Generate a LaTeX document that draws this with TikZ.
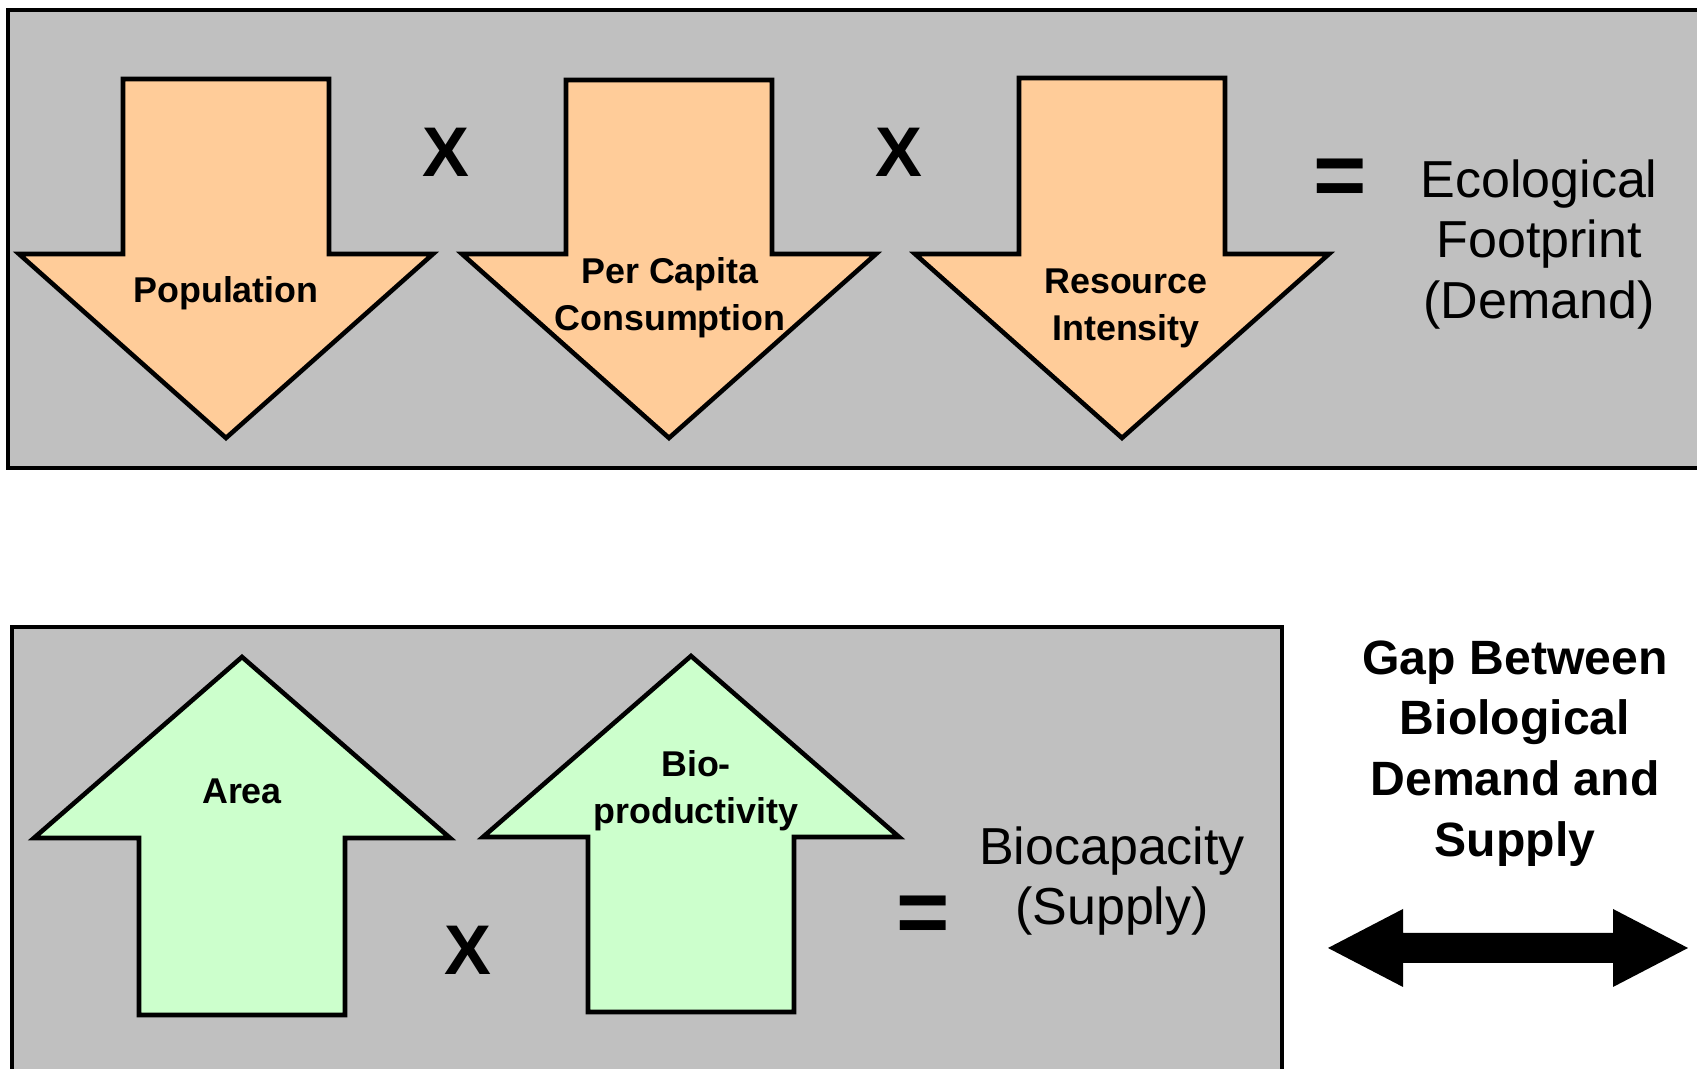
\documentclass[tikz,border=0pt]{standalone}
\usepackage{fontspec}
\setmainfont{Liberation Sans}
\definecolor{panelgray}{HTML}{C0C0C0}
\definecolor{demandfill}{HTML}{FFCC99}
\definecolor{supplyfill}{HTML}{CCFFCC}

\begin{document}
\begin{tikzpicture}[
		panel/.style={draw=black, fill=panelgray, line width=1.3pt},
		downarrow/.style={draw=black, fill=demandfill, line width=1.3pt, line join=miter},
		uparrow/.style={draw=black, fill=supplyfill, line width=1.3pt, line join=miter},
		lbl/.style={align=center, inner sep=0pt, font=\fontsize{10.2}{13.5}\selectfont\bfseries},
		times/.style={inner sep=0pt, font=\fontsize{20}{24}\selectfont\bfseries},
		equals/.style={inner sep=0pt, font=\fontsize{26}{30}\selectfont\bfseries},
		result/.style={align=center, inner sep=0pt, font=\fontsize{14.8}{17.3}\selectfont},
		gaptext/.style={align=center, inner sep=0pt, font=\fontsize{13.7}{17.3}\selectfont\bfseries}
	]
	\useasboundingbox (0,0) rectangle (16.97,10.69);
	\clip (0,0) rectangle (16.97,10.69);
	
	% demand
	\draw [panel] (0.08,6.01) rectangle (17.5,10.59);
	\draw [downarrow] (1.23,9.9) -- (3.29,9.9) -- (3.29,8.15) -- (4.33,8.15) -- (2.26,6.31) -- (0.19,8.15) -- (1.23,8.15) -- cycle;
	\draw [downarrow] (5.66,9.89) -- (7.72,9.89) -- (7.72,8.15) -- (8.76,8.15) -- (6.69,6.31) -- (4.62,8.15) -- (5.66,8.15) -- cycle;
	\draw [downarrow] (10.19,9.91) -- (12.25,9.91) -- (12.25,8.15) -- (13.29,8.15) -- (11.22,6.31) -- (9.15,8.15) -- (10.19,8.15) -- cycle;
	\node [lbl] (pop) at (2.26,7.755) {Population};
	\node [lbl] (cons) at (6.70,7.71) {Per Capita\\Consumption};
	\node [lbl] (intens) at (11.26,7.605) {Resource\\Intensity};
	\node [times] (x1) at (4.46,9.17) {X};
	\node [times] (x2) at (8.99,9.17) {X};
	\node [equals] (eq1) at (13.40,8.865) {=};
	\node [result] (footprint) at (15.39,8.245) {Ecological\\Footprint\\(Demand)};
	
	% supply
	\draw [panel] (0.12,-0.5) rectangle (12.82,4.42);
	\draw [uparrow] (2.42,4.12) -- (4.50,2.31) -- (3.45,2.31) -- (3.45,0.54) -- (1.39,0.54) -- (1.39,2.31) -- (0.34,2.31) -- cycle;
	\draw [uparrow] (6.91,4.13) -- (8.99,2.32) -- (7.94,2.32) -- (7.94,0.57) -- (5.88,0.57) -- (5.88,2.32) -- (4.83,2.32) -- cycle;
	\node [lbl] (area) at (2.42,2.78) {Area};
	\node [lbl] (bioprod) at (6.96,2.785) {Bio-\\productivity};
	\node [times] (x3) at (4.68,1.19) {X};
	\node [equals] (eq2) at (9.23,1.49) {=};
	\node [result] (biocap) at (11.12,1.88) {Biocapacity\\(Supply)};
	
	% gap
	\node [gaptext] (gap) at (15.15,3.155) {Gap Between\\Biological\\Demand and\\Supply};
	\fill (13.28,1.21) -- (14.03,1.60) -- (14.03,1.36) -- (16.13,1.36) -- (16.13,1.60) -- (16.88,1.21) -- (16.13,0.82) -- (16.13,1.06) -- (14.03,1.06) -- (14.03,0.82) -- cycle;
\end{tikzpicture}
\end{document}
